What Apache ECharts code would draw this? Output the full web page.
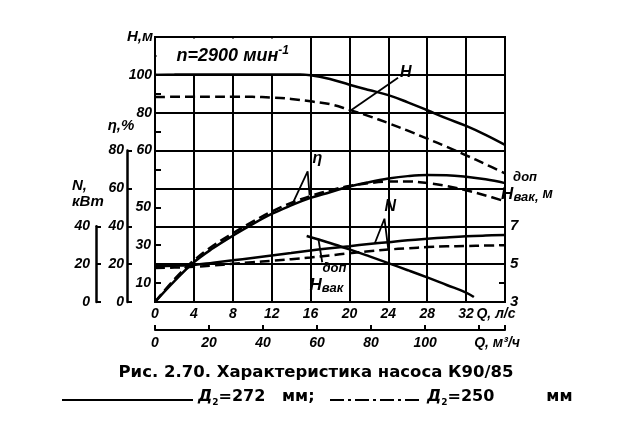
<!DOCTYPE html>
<html><head><meta charset="utf-8">
<script src="https://cdn.jsdelivr.net/npm/echarts@6/dist/echarts.min.js"></script>
<style>html,body{margin:0;padding:0;background:#fff}#c{width:631px;height:427px}</style>
</head><body><div id="c"></div>
<script>
// ---- data ----
const qLs      = [0,2,4,6,8,10,12,14,16,18,20,22,24,26,28,30,32,34,36];
const hD272    = [100,100.3,100.6,100.8,101,101,101,100.6,99.8,97.8,94.8,92,89.3,85.5,81.3,77,73,68.3,63];
const hD250    = [88.3,88.4,88.5,88.5,88.5,88.4,88,87.3,86,84.5,81.5,78.2,74.5,70.5,66.3,62,57.5,52.8,48];
const etaD272  = [0,11,21,28.5,35,41,46.5,51,55,58,61,63.3,65.2,66.5,67.1,67,66.2,64.8,62.8];
const etaD250  = [0,12,22,29.8,36.3,42.3,47.8,52.3,56,59,61.3,62.8,63.6,63.7,62.8,61.3,59,56.3,53.2];
const nD272    = [19,19.2,19.6,20.8,22,23.3,24.6,25.9,27.2,28.4,29.5,30.6,31.6,32.6,33.4,34.1,34.7,35.1,35.4];
const nD250    = [18,18.2,18.6,19.3,20.2,21,21.8,22.6,23.5,24.6,25.8,26.8,27.7,28.4,29,29.4,29.6,29.8,30];
const qVac     = [15.6,18,20,22,24,26,28,30,32,32.8];
const hVacDop  = [6.49,6.12,5.78,5.42,5.05,4.68,4.3,3.9,3.5,3.26];
// tick labels
const qLsLabels   = ['0','4','8','12','16','20','24','28','32','Q, л/с'];
const qM3hLabels  = ['0','20','40','60','80','100','Q, м³/ч'];
const hLabels     = [60,80,100];
const innerLabels = [10,30,50];
const etaLabels   = [0,20,40,60,80];
const nLabels     = [0,20,40];
const vacLabels   = [3,5,7];
// annotation leaders (data units)
const leaderH   = [[20.2,81.4],[25.0,98.5]];
const leaderEta = [[14.1,51.5],[15.7,69],[15.9,56.5]];
const leaderN   = [[22.6,30.9],[23.6,44],[24.0,27.7]];
const leaderVac = [[16.8,6.35],[17.2,5.1]];

const zip = (a,b) => a.map((v,i)=>[v,b[i]]);
const FONT = "'Liberation Sans', Arial, sans-serif";
const lbl = {color:'#000', fontFamily:FONT, fontStyle:'italic', fontWeight:'bold', fontSize:14};
const BL = {color:'#000', width:2};

const chart = echarts.init(document.getElementById('c'));
const solid = {color:'#000', width:2.5, type:'solid'};
const dash  = {color:'#000', width:2.5, type:[10,5]};
function ser(name, data, yi, ls){
  return {name, type:'line', xAxisIndex:0, yAxisIndex:yi, data, symbol:'none', smooth:0.4, lineStyle:ls, silent:true, z:5};
}
const option = {
  animation:false,
  backgroundColor:'#fff',
  grid:[
    {left:155, right:126, top:37, bottom:125, show:true, borderColor:'#000', borderWidth:2},
    {left:127, width:1, top:150.57, bottom:125},
    {left:96, width:1, top:226.29, bottom:125},
    {left:504, width:1, top:226.29, bottom:125}
  ],
  xAxis:[
    {gridIndex:0, type:'value', min:0, max:36, interval:4, position:'bottom',
     axisLine:{onZero:false, lineStyle:BL}, axisTick:{show:false},
     splitLine:{show:true, lineStyle:BL},
     axisLabel:Object.assign({}, lbl, {margin:5, showMinLabel:true, showMaxLabel:true,
       formatter:v => { const s = qLsLabels[Math.round(v/4)]; return v===36 ? '{q|'+s+'}' : s; },
       rich:{q:Object.assign({}, lbl, {padding:[0,18,0,0]})}})},
    {gridIndex:0, type:'value', min:0, max:36*3.6, interval:20, position:'bottom', offset:28,
     axisLine:{onZero:false, lineStyle:BL}, axisTick:{show:true, inside:true, length:5, lineStyle:BL},
     splitLine:{show:false},
     axisLabel:Object.assign({}, lbl, {margin:6, showMinLabel:true, showMaxLabel:true,
       formatter:v => { if (v%20!==0) return ''; const s = qM3hLabels[v/20]; return v===120 ? '{q|'+s+'}' : s; },
       rich:{q:Object.assign({}, lbl, {padding:[0,0,0,36]})}})},
    {gridIndex:1, type:'value', min:0, max:1, show:false},
    {gridIndex:2, type:'value', min:0, max:1, show:false},
    {gridIndex:3, type:'value', min:0, max:1, show:false}
  ],
  yAxis:[
    // 0: main scale (η %, N kW)
    {gridIndex:0, type:'value', min:0, max:140, interval:20, position:'left',
     axisLine:{show:true, onZero:false, lineStyle:BL}, axisTick:{show:false}, axisLabel:{show:false},
     splitLine:{show:true, lineStyle:BL}},
    // 1: H, m
    {gridIndex:0, type:'value', min:-20, max:120, interval:10, position:'left',
     axisLine:{show:false, onZero:false}, axisTick:{show:true, inside:true, length:6, lineStyle:BL},
     splitLine:{show:false},
     name:'H,м', nameLocation:'end', nameGap:0,
     nameTextStyle:Object.assign({}, lbl, {fontSize:15, align:'right', verticalAlign:'middle', padding:[0,2,0,0]}),
     axisLabel:Object.assign({}, lbl, {margin:3, formatter:v => hLabels.includes(v) ? String(v) : ''})},
    // 2: inner lower labels
    {gridIndex:0, type:'value', min:0, max:140, interval:10, position:'left',
     axisLine:{show:false, onZero:false}, axisTick:{show:false}, splitLine:{show:false},
     axisLabel:Object.assign({}, lbl, {margin:4, formatter:v => innerLabels.includes(v) ? String(v) : ''})},
    // 3: hidden Hvac scale in main grid
    {gridIndex:0, type:'value', min:3, max:17, show:false, splitLine:{show:false}},
    // 4: eta axis
    {gridIndex:1, type:'value', min:0, max:80, interval:20, position:'left',
     axisLine:{show:true, onZero:false, lineStyle:{color:'#000', width:2.5}},
     axisTick:{show:true, inside:true, length:5, lineStyle:BL}, splitLine:{show:false},
     name:'η,%', nameLocation:'end', nameGap:17,
     nameTextStyle:Object.assign({}, lbl, {fontSize:15, padding:[0,12,0,0]}),
     axisLabel:Object.assign({}, lbl, {margin:3, formatter:v => etaLabels.includes(v) ? String(v) : ''})},
    // 5: N axis
    {gridIndex:2, type:'value', min:0, max:40, interval:20, position:'left',
     axisLine:{show:true, onZero:false, lineStyle:{color:'#000', width:2.5}},
     axisTick:{show:true, inside:true, length:5, lineStyle:BL}, splitLine:{show:false},
     axisLabel:Object.assign({}, lbl, {margin:6, formatter:v => nLabels.includes(v) ? String(v) : ''})},
    // 6: Hvac visible axis
    {gridIndex:3, type:'value', min:3, max:7, interval:1, position:'right',
     axisLine:{show:true, onZero:false, lineStyle:BL},
     axisTick:{show:true, inside:true, length:6, lineStyle:BL}, splitLine:{show:false},
     axisLabel:Object.assign({}, lbl, {fontSize:15, margin:5, formatter:v => vacLabels.includes(v) ? String(v) : ''})}
  ],
  series:[
    ser('H 272', zip(qLs,hD272), 1, solid),
    ser('H 250', zip(qLs,hD250), 1, dash),
    ser('η 272', zip(qLs,etaD272), 0, solid),
    ser('η 250', zip(qLs,etaD250), 0, dash),
    ser('N 272', zip(qLs,nD272), 0, solid),
    ser('N 250', zip(qLs,nD250), 0, dash),
    ser('Hvac', zip(qVac,hVacDop), 3, solid),
    Object.assign(ser('lH', leaderH, 1, {color:'#000', width:1.8}), {smooth:false}),
    Object.assign(ser('lEta', leaderEta, 0, {color:'#000', width:1.8}), {smooth:false}),
    Object.assign(ser('lN', leaderN, 0, {color:'#000', width:1.8}), {smooth:false}),
    Object.assign(ser('lVac', leaderVac, 3, {color:'#000', width:1.8}), {smooth:false})
  ]
};
chart.setOption(option);

const X = q => chart.convertToPixel({xAxisIndex:0}, q);
const Y = (v, yi) => chart.convertToPixel({yAxisIndex:yi}, v);
const big = Object.assign({}, lbl, {fontSize:16});
const capFont = "'DejaVu Sans', sans-serif";
const x0 = X(0), x16 = X(16), yTop = Y(120,1), y100 = Y(100,1);
const nAxisX = 96, nAxisTop = Y(40,5);
const capRich = {
  d:{fontFamily:capFont, fontWeight:'bold', fontStyle:'italic', fontSize:16, lineHeight:20},
  s:{fontFamily:capFont, fontWeight:'bold', fontSize:9, lineHeight:20, verticalAlign:'bottom'},
  t:{fontFamily:capFont, fontWeight:'bold', fontSize:16, lineHeight:20}
};
chart.setOption({graphic:[
  {type:'rect', z:50, shape:{x:x0+1.5, y:yTop+1.5, width:x16-x0-3, height:y100-yTop-3}, style:{fill:'#fff'}},
  {type:'text', z:51, x:(x0+x16)/2, y:(yTop+y100)/2,
   style:{text:'{a|n=2900 мин}{s|-1}', align:'center', verticalAlign:'middle',
     rich:{a:Object.assign({}, big, {fontSize:18, lineHeight:22}), s:Object.assign({}, lbl, {fontSize:12, verticalAlign:'top', lineHeight:22})}}},
  {type:'text', z:51, x:nAxisX-24, y:nAxisTop-48,
   style:{text:'N,\nкВт', align:'left', verticalAlign:'top', fill:'#000', fontFamily:FONT, fontStyle:'italic', fontWeight:'bold', fontSize:15, lineHeight:16}},
  {type:'text', z:51, x:X(25.2), y:Y(101,1), style:Object.assign({text:'H', align:'left', verticalAlign:'middle'}, big, {fill:'#000'})},
  {type:'text', z:51, x:X(16.7), y:Y(76,0), style:Object.assign({text:'η', align:'center', verticalAlign:'middle'}, big, {fill:'#000'})},
  {type:'text', z:51, x:X(24.2), y:Y(50.2,0), style:Object.assign({text:'N', align:'center', verticalAlign:'middle'}, big, {fill:'#000'})},
  {type:'text', z:51, x:X(15.9), y:Y(5.15,3),
   style:{text:'{sp|}{s|доп}\n{H|H}{b|вак}', align:'left', verticalAlign:'top',
     rich:{sp:{width:13}, s:Object.assign({}, lbl, {fontSize:13, lineHeight:14}),
           H:Object.assign({}, big, {fontSize:17, lineHeight:20}), b:Object.assign({}, lbl, {fontSize:13, lineHeight:20, verticalAlign:'bottom'})}}},
  {type:'text', z:51, x:X(35.6), y:Y(7,6) - 56,
   style:{text:'{sp|}{s|доп}\n{H|H}{b|вак,}{m| м}', align:'left', verticalAlign:'top',
     rich:{sp:{width:12}, s:Object.assign({}, lbl, {fontSize:13, lineHeight:14}),
           H:Object.assign({}, big, {fontSize:17, lineHeight:20}), b:Object.assign({}, lbl, {fontSize:13, lineHeight:20, verticalAlign:'bottom'}),
           m:Object.assign({}, lbl, {fontSize:14, lineHeight:20})}}},
  {type:'text', z:51, x:316, y:373,
   style:{text:'Рис. 2.70. Характеристика насоса К90/85', align:'center', verticalAlign:'middle',
     fill:'#000', fontFamily:capFont, fontWeight:'bold', fontSize:16.5}},
  {type:'line', z:51, shape:{x1:62, y1:400, x2:193, y2:400}, style:{stroke:'#000', lineWidth:2}},
  {type:'text', z:51, x:198, y:397,
   style:{text:'{d|Д}{s|2}{t|=272   мм;}', align:'left', verticalAlign:'middle', rich:capRich}},
  {type:'line', z:51, shape:{x1:330, y1:400, x2:423, y2:400}, style:{stroke:'#000', lineWidth:2, lineDash:[14,4,3,4]}},
  {type:'text', z:51, x:427, y:397,
   style:{text:'{d|Д}{s|2}{t|=250}{g|}{t|мм}', align:'left', verticalAlign:'middle',
     rich:Object.assign({g:{width:52}}, capRich)}}
]});
</script></body></html>
